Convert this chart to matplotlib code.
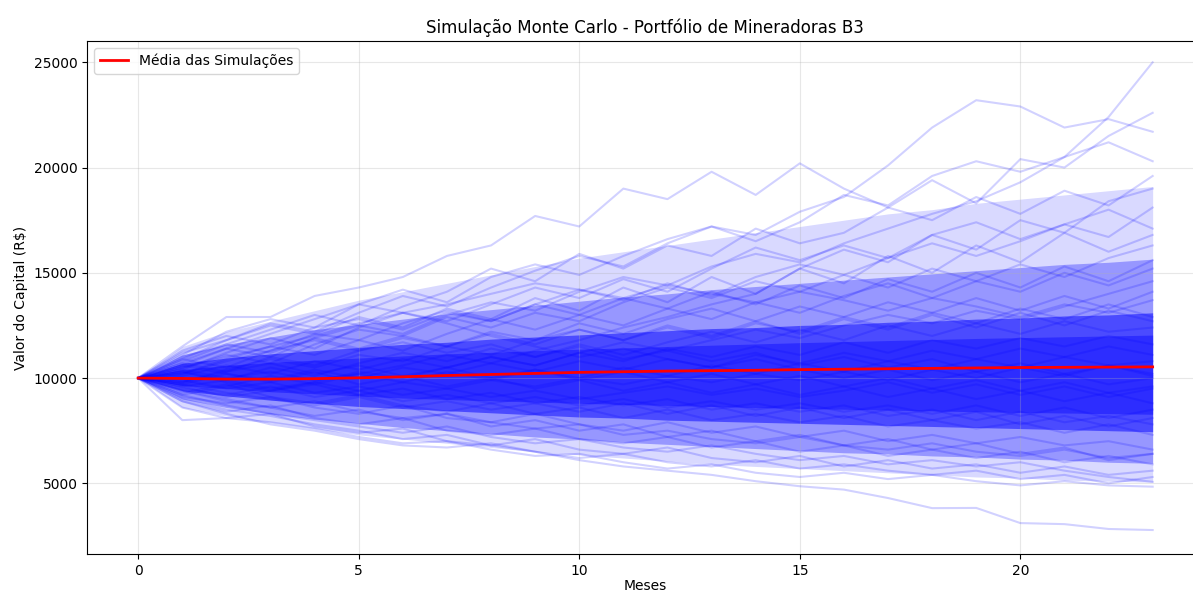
import matplotlib.pyplot as plt

# months simulated
meses = list(range(24))

# mean of all simulations
media = [10000, 9980, 9950, 9950, 9970, 10010, 10060, 10120, 10170, 10220, 10270, 10300,
         10330, 10350, 10370, 10400, 10420, 10440, 10460, 10480, 10500, 10510, 10520, 10530]

# density of the fan, from light outer to saturated inner region
outer_lo = [10000, 8600, 8200, 7900, 7600, 7300, 7100, 6900, 6700, 6500, 6350, 6200,
            6050, 5900, 5800, 5700, 5600, 5500, 5400, 5300, 5250, 5150, 5100, 5050]
outer_hi = [10000, 11500, 12200, 12700, 13200, 13700, 14100, 14500, 14900, 15300, 15700, 16000,
            16300, 16600, 16900, 17200, 17500, 17800, 18000, 18300, 18500, 18700, 18900, 19100]
mid_lo = [10000, 9000, 8600, 8300, 8050, 7850, 7650, 7500, 7350, 7200, 7100, 6950,
          6850, 6750, 6650, 6550, 6450, 6400, 6300, 6250, 6150, 6100, 6000, 5950]
mid_hi = [10000, 11100, 11600, 11950, 12300, 12550, 12800, 13050, 13250, 13450, 13650, 13850,
          14000, 14200, 14350, 14500, 14650, 14800, 14950, 15100, 15250, 15400, 15500, 15650]
core_lo = [10000, 9400, 9150, 8950, 8800, 8650, 8550, 8450, 8350, 8250, 8150, 8100,
           8000, 7950, 7900, 7850, 7800, 7750, 7700, 7650, 7600, 7550, 7500, 7450]
core_hi = [10000, 10700, 10950, 11150, 11300, 11450, 11600, 11700, 11850, 11950, 12050, 12150,
           12250, 12350, 12400, 12500, 12550, 12650, 12700, 12800, 12850, 12950, 13000, 13100]
inner_lo = [10000, 9650, 9500, 9350, 9250, 9150, 9050, 8980, 8920, 8860, 8800, 8750,
            8700, 8650, 8600, 8560, 8520, 8480, 8440, 8400, 8370, 8340, 8310, 8280]
inner_hi = [10000, 10400, 10600, 10750, 10850, 10950, 11050, 11150, 11220, 11300, 11370, 11430,
            11500, 11560, 11620, 11680, 11730, 11780, 11830, 11880, 11920, 11960, 12000, 12040]

# individual simulated paths (visible ones)
trajetorias = [
    [10000, 10600, 11400, 11000, 11900, 12500, 12100, 13000, 13600, 13200, 14100, 14800, 14400, 15300, 15900, 15500, 16400, 17100, 17800, 18400, 19300, 20500, 22400, 25000],
    [10000, 11200, 11800, 12600, 12200, 13100, 13900, 13400, 14300, 15100, 15800, 15300, 16400, 17200, 16800, 17900, 18600, 20100, 21900, 23200, 22900, 21900, 22300, 21700],
    [10000, 11500, 12900, 12900, 13900, 14300, 14800, 15800, 16300, 17700, 17200, 19000, 18500, 19800, 18700, 20200, 19000, 18100, 19400, 18300, 20400, 20000, 21500, 22600],
    [10000, 11100, 12200, 12800, 12400, 13500, 14200, 13600, 14800, 15400, 14900, 15800, 16600, 17200, 16500, 17400, 18700, 18200, 19600, 20300, 19800, 20500, 21200, 20300],
    [10000, 10800, 11600, 12300, 13000, 12500, 13400, 14100, 15200, 14600, 15900, 15200, 16300, 15800, 17100, 16400, 16900, 18100, 17500, 18600, 17800, 18900, 18200, 19600],
    [10000, 10400, 11200, 11900, 11400, 12400, 13100, 12700, 13500, 14300, 13800, 14700, 14100, 15200, 16200, 15600, 16300, 15700, 16800, 17400, 16600, 17300, 18000, 17100],
    [10000, 10900, 10500, 11300, 12100, 11800, 12600, 13200, 12700, 13500, 14200, 13700, 14500, 13900, 14800, 15400, 14900, 15700, 16400, 15800, 16500, 17300, 16700, 18100],
    [10000, 10500, 11100, 10700, 11600, 12300, 12000, 12900, 12400, 13100, 12700, 13600, 14300, 13800, 14600, 14100, 14900, 14300, 15200, 14600, 15400, 14800, 15700, 16300],
    [10000, 10200, 10900, 11500, 11100, 11800, 11300, 12100, 12800, 12300, 13000, 12500, 13300, 12800, 13600, 13100, 13900, 14500, 13800, 14600, 14100, 15000, 14400, 15200],
    [10000, 10700, 10300, 11000, 10600, 11300, 11900, 11500, 12200, 11800, 12600, 12100, 12800, 13300, 12700, 13400, 12900, 13600, 13100, 13800, 13200, 13900, 13300, 14100],
    [10000, 9800, 10400, 10900, 10500, 11100, 10800, 11500, 11100, 11800, 12300, 11800, 12400, 11900, 12600, 12200, 12900, 12400, 13100, 12600, 13300, 12800, 13500, 12900],
    [10000, 10300, 9900, 10500, 10100, 10700, 11200, 10800, 11400, 11000, 11600, 11100, 11700, 12200, 11700, 12300, 11800, 12500, 12000, 12600, 12100, 12700, 12200, 12400],
    [10000, 10100, 10600, 10200, 10800, 10400, 10900, 10500, 11000, 10600, 11200, 10800, 11400, 11000, 11500, 11100, 11700, 11200, 11800, 11400, 11900, 11500, 12000, 11600],
    [10000, 9700, 10200, 9900, 10400, 10000, 10500, 10200, 10700, 10300, 10800, 10400, 10900, 10500, 11100, 10700, 11200, 10800, 11300, 10900, 11400, 11000, 11500, 11100],
    [10000, 10400, 10000, 10300, 9900, 10200, 9800, 10300, 9900, 10400, 10000, 10500, 10100, 10600, 10200, 10700, 10300, 10800, 10400, 10900, 10500, 11000, 10600, 10800],
    [10000, 9600, 9900, 9500, 9800, 9400, 9800, 9500, 9900, 9600, 10000, 9700, 10100, 9800, 10200, 9900, 10300, 9900, 10400, 10000, 10500, 10100, 10600, 10200],
    [10000, 9900, 9500, 9800, 9300, 9600, 9200, 9500, 9100, 9400, 9000, 9300, 9600, 9200, 9500, 9100, 9400, 9800, 9300, 9700, 9200, 9600, 9100, 9500],
    [10000, 9500, 9200, 9600, 9100, 9400, 8900, 9200, 8800, 9100, 8700, 9000, 8600, 8900, 8500, 8800, 8400, 8700, 8300, 8700, 8200, 8600, 8100, 8500],
    [10000, 9300, 9700, 9100, 8800, 9200, 8700, 8400, 8800, 8300, 8600, 8100, 8500, 8000, 8300, 7900, 8200, 7700, 8000, 7600, 7900, 7400, 7800, 7300],
    [10000, 9100, 8800, 9100, 8600, 8300, 8700, 8100, 7900, 8300, 7800, 7500, 7900, 7400, 7700, 7200, 7500, 7000, 7300, 6900, 7200, 6800, 7000, 6600],
    [10000, 8900, 8400, 8700, 8100, 7800, 8100, 7500, 7300, 7600, 7100, 6900, 7200, 6700, 7000, 6500, 6800, 6300, 6600, 6200, 6500, 6000, 6300, 5900],
    [10000, 8600, 8100, 8300, 7700, 7400, 7600, 7000, 6800, 7100, 6600, 6400, 6700, 6200, 6000, 6300, 5800, 6100, 5700, 5900, 5500, 5800, 5400, 5600],
    [10000, 9000, 8500, 8200, 7800, 7500, 7100, 7300, 6800, 6500, 6100, 5800, 5600, 5400, 5100, 4860, 4700, 4300, 3820, 3830, 3110, 3060, 2830, 2780],
    [10000, 8000, 8100, 7900, 7600, 7200, 6900, 7000, 6600, 6300, 6400, 6000, 5700, 5900, 5500, 5300, 5500, 5200, 5400, 5100, 4900, 5100, 4900, 4840],
    [10000, 9200, 8700, 8300, 8000, 7700, 7400, 7700, 7200, 6900, 7100, 6700, 6500, 6800, 6400, 6100, 6300, 5900, 6100, 5800, 6000, 5600, 5300, 5070],
    [10000, 9400, 9000, 8600, 8900, 8400, 8100, 8300, 7900, 7600, 7800, 7300, 7500, 7100, 6900, 7200, 6800, 6600, 6900, 6500, 6300, 6600, 6200, 6400],
    [10000, 10300, 9800, 9400, 9700, 9200, 9500, 9000, 9300, 8800, 9100, 8700, 9000, 8500, 8800, 8400, 8700, 8200, 8500, 8000, 8400, 7900, 8200, 7800],
    [10000, 10600, 10200, 9800, 10300, 9700, 10100, 9600, 10000, 9500, 9900, 9400, 9800, 9300, 9700, 9200, 9600, 9100, 9500, 9000, 9400, 8900, 9300, 8800],
    [10000, 9800, 10300, 10700, 10200, 10600, 10100, 10500, 10000, 10400, 9900, 10300, 9800, 10200, 9700, 10100, 9600, 10000, 9500, 9900, 9400, 9800, 9300, 9600],
    [10000, 10200, 10800, 11300, 11800, 11300, 11700, 11200, 11600, 11000, 11500, 10900, 11300, 10800, 11200, 10600, 11000, 10500, 10900, 10300, 10700, 10200, 10600, 10100],
    [10000, 11000, 11600, 11200, 11900, 11400, 12000, 11500, 12100, 11600, 12300, 11800, 12500, 12000, 12700, 12100, 12800, 12300, 13000, 12400, 13100, 12500, 13200, 12700],
    [10000, 11300, 12000, 11600, 12400, 12800, 12300, 13100, 12700, 13500, 13000, 13800, 13300, 14100, 13500, 14400, 13800, 14700, 14100, 15000, 14300, 15300, 14600, 15600],
    [10000, 10900, 11800, 12500, 12100, 12900, 12400, 13300, 12800, 13800, 13200, 14300, 13600, 14800, 14000, 15200, 14500, 15800, 15000, 16300, 15500, 16900, 16000, 16800],
    [10000, 9700, 9300, 9000, 8700, 9100, 8600, 8900, 8500, 8800, 8400, 8800, 8300, 8700, 8200, 8600, 8100, 8500, 8000, 8400, 7800, 8200, 7700, 8100],
    [10000, 9400, 8900, 8600, 8200, 8500, 8000, 8300, 7700, 8000, 7500, 7800, 7200, 7500, 7000, 7300, 6800, 7100, 6600, 6900, 6400, 6700, 6100, 6400],
    [10000, 8900, 8300, 7800, 7500, 7100, 6800, 6700, 6900, 6500, 6200, 6400, 6000, 5800, 6100, 5700, 5900, 5600, 5400, 5600, 5200, 5400, 5000, 5300],
    [10000, 10500, 11000, 11500, 12000, 12600, 13100, 13500, 14000, 14500, 14200, 13800, 14400, 14000, 13600, 14100, 13700, 13200, 13800, 13400, 12900, 13500, 13100, 13700],
    [10000, 9600, 9100, 9400, 9800, 10300, 10000, 10500, 11000, 10600, 11200, 11700, 11300, 11800, 12300, 11900, 12500, 13000, 12600, 13200, 12800, 13400, 14000, 14600],
    [10000, 10700, 11400, 12100, 12800, 13500, 13100, 12600, 12000, 11500, 11000, 11400, 10900, 10500, 10900, 10400, 10000, 10400, 9900, 10300, 9800, 10200, 9700, 10000],
    [10000, 9200, 9600, 10100, 9700, 10200, 10600, 11100, 10700, 11300, 11800, 12400, 12900, 13500, 14000, 15200, 16100, 15500, 16800, 16100, 17500, 16900, 18400, 19000],
]

fig = plt.figure(figsize=(11.93, 5.94), dpi=100)
ax = fig.add_axes([0.0733, 0.0673, 0.9354, 0.8636])

# stacked translucent bands give the dense look of the overlapping paths
ax.fill_between(meses, outer_lo, outer_hi, color='blue', alpha=0.15, linewidth=0)
ax.fill_between(meses, mid_lo, mid_hi, color='blue', alpha=0.3, linewidth=0)
ax.fill_between(meses, core_lo, core_hi, color='blue', alpha=0.5, linewidth=0)
ax.fill_between(meses, inner_lo, inner_hi, color='blue', alpha=0.4, linewidth=0)

for traj in trajetorias:
    ax.plot(meses, traj, color='blue', alpha=0.18, linewidth=1.5)

ax.plot(meses, media, color='red', linewidth=2, label='Média das Simulações')

ax.set_title("Simulação Monte Carlo - Portfólio de Mineradoras B3", fontsize=12)
ax.set_xlabel("Meses", labelpad=1)
ax.set_ylabel("Valor do Capital (R$)")
ax.set_xlim(-1.15, 24.15)
ax.set_ylim(1640, 26010)
ax.set_xticks([0, 5, 10, 15, 20])
ax.spines['right'].set_visible(False)
ax.grid(True, alpha=0.3)
ax.legend(loc='upper left')

fig.savefig("out.png", dpi=100)
